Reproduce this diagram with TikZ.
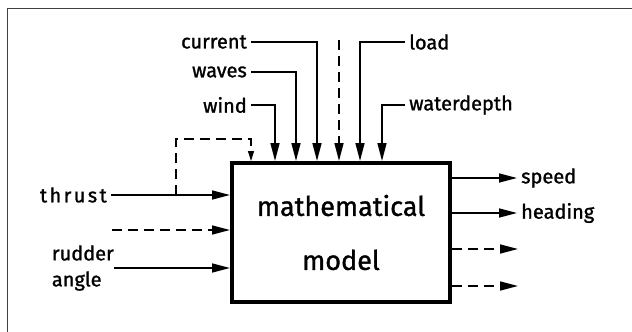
\documentclass[tikz,border=0pt]{standalone}
\usepackage{fontspec}
\setmainfont{Fira Sans}[FakeBold=1.2]
\usepackage{tikz}
\usetikzlibrary{
  arrows.meta,
  positioning
}

\begin{document}
\begin{tikzpicture}[x=1pt, y=-1pt,
  model/.style={rectangle, draw, line width=4pt, minimum width=218pt, minimum height=139pt, inner sep=0pt, font=\fontsize{27}{54}\selectfont, align=center},
  lbl/.style={font=\fontsize{20}{26}\selectfont, inner sep=4pt},
  arr/.style={-{Triangle[length=18pt,width=9pt]}, line width=1.5pt},
  darr/.style={arr, dash pattern=on 10pt off 6pt},
  sarr/.style={-{Triangle[length=10pt,width=6pt]}, line width=1.5pt, dash pattern=on 10pt off 6pt}
]
  \useasboundingbox (0,0) rectangle (632,332);
  \draw[line width=1pt, black!75] (7,332) |- (632,8);

  \node[model] (box) at (341,232.5) {mathematical\\model};

  % inputs from above
  \node[lbl, anchor=east] (current) at (251,42) {current};
  \node[lbl, anchor=east] (waves) at (251,72) {waves};
  \node[lbl, anchor=east] (wind) at (251,105) {wind};
  \node[lbl, anchor=west] (load) at (405,42) {load};
  \node[lbl, anchor=west] (depth) at (405,105) {waterdepth};
  \coordinate (topfree) at (339,40);

  \draw[arr] (wind.east) -| ([xshift=-66pt]box.north);
  \draw[arr] (waves.east) -| ([xshift=-45pt]box.north);
  \draw[arr] (current.east) -| ([xshift=-24pt]box.north);
  \draw[darr] (topfree) -- ([xshift=-2pt]box.north);
  \draw[arr] (load.west) -| ([xshift=19pt]box.north);
  \draw[arr] (depth.west) -| ([xshift=41pt]box.north);

  % inputs from the left
  \node[lbl, anchor=east] (thrust) at (111,195) {\addfontfeature{LetterSpace=12}thrust};
  \node[lbl, anchor=east, inner sep=0pt, align=left] (rudder) at (114,268) {rudder\\angle};
  \coordinate (leftfree) at (112,230);
  \coordinate (tap) at (176,195);

  \draw[arr] (thrust.east) -- ([yshift=37.5pt]box.west);
  \draw[darr] (leftfree) -- ([yshift=2.5pt]box.west);
  \draw[arr] (rudder.east) -- ([yshift=-35.5pt]box.west);
  \draw[sarr] (tap) |- ([xshift=-90pt,yshift=22pt]box.north) -- ([xshift=-90pt]box.north);

  % outputs
  \node[lbl, anchor=west] (speed) at (517,178) {speed};
  \node[lbl, anchor=west] (heading) at (517,213) {heading};
  \coordinate (out3) at (518,249);
  \coordinate (out4) at (518,286);

  \draw[arr] ([yshift=54.5pt]box.east) -- (speed.west);
  \draw[arr] ([yshift=19.5pt]box.east) -- (heading.west);
  \draw[darr] ([yshift=-16.5pt]box.east) -- (out3);
  \draw[darr] ([yshift=-53.5pt]box.east) -- (out4);
\end{tikzpicture}
\end{document}
